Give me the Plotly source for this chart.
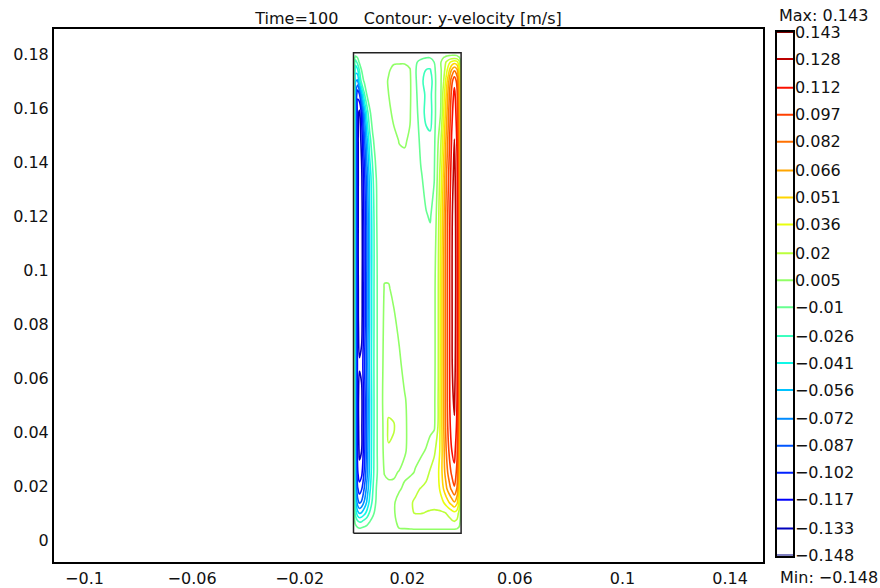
import plotly.graph_objects as go
from plotly.colors import sample_colorscale

# ---------------- data ----------------
# cavity outline [m]
domain_x = [0.0, 0.04]
domain_y = [0.0025, 0.1805]

# grid nodes [m]
x_m = [0.0000, 0.0007, 0.0015, 0.0022, 0.0030, 0.0040, 0.0050, 0.0060, 0.0072, 0.0085,
       0.0100, 0.0115, 0.0130, 0.0150, 0.0170, 0.0190, 0.0210, 0.0230, 0.0250, 0.0270,
       0.0285, 0.0300, 0.0315, 0.0325, 0.0335, 0.0345, 0.0355, 0.0365, 0.0375, 0.0385,
       0.0393, 0.0400]
y_m = [0.0025, 0.0045, 0.0070, 0.0100, 0.0140, 0.0190, 0.0250, 0.0330, 0.0420, 0.0520,
       0.0650, 0.0800, 0.0930, 0.1050, 0.1200, 0.1350, 0.1480, 0.1580, 0.1650, 0.1700,
       0.1740, 0.1770, 0.1790, 0.1805]

# y-velocity estimated at the grid nodes [mm/s], one row per y_m value
vy_mm_s = [
    [0]*32,
    [0, -5, -9, -11, -10, -8, -6, -4, -2, -1, 0,   0, 0, 2, 5.5, 6, 6.5, 7, 7, 7, 7, 7,   7, 7, 7, 7, 7, 7, 7, 6, 4, 0],
    [0, -15, -24, -28, -27, -22, -17, -11, -6, -2, 0,   0, 0, 3, 8, 11, 13, 14, 14, 14, 13, 13,   13, 13, 14, 15, 17, 19, 21, 18, 10, 0],
    [0, -30, -50, -58, -55, -46, -36, -24, -13, -5, -1,   0, 1, 4, 10, 15, 19, 21, 21, 20, 19, 18,   18, 18, 19, 21, 24, 28, 32, 28, 16, 0],
    [0, -50, -80, -90, -85, -70, -54, -37, -21, -8, -2,   0, 1, 4, 9, 14, 19, 22, 23, 24, 25, 26,   28, 31, 36, 43, 51, 59, 66, 55, 32, 0],
    [0, -65, -100, -110, -104, -86, -66, -45, -26, -10, -3,   0, 2, 3, 4, 7, 12, 18, 21, 24, 26, 28,   32, 40, 52, 64, 75, 85, 95, 80, 45, 0],
    [0, -70, -115, -128, -122, -100, -76, -52, -30, -12, -4,   6, 7.5, 6.5, 4.5, 3, 3, 6, 10, 16, 22, 27,   34, 45, 60, 75, 88, 100, 108, 92, 55, 0],
    [0, -74, -122, -136, -133, -108, -80, -54, -31, -12, -3,   9, 19.2, 17.5, 11, 6, 3, 2, 3, 6, 12, 18,   28, 42, 62, 82, 98, 112, 118, 100, 60, 0],
    [0, -75, -124, -139, -136, -110, -83, -55, -32, -12, -3,   10, 23, 21.5, 13, 7, 2, 1, 0, 0, 1, 3,   22, 43, 65, 88, 105, 120, 126, 108, 65, 0],
    [0, -75, -125, -140, -137, -111, -84, -56, -32, -12, -3,   12, 15.5, 15, 11, 6, 2, 0, -1, -1, 0, 2,   21, 43, 66, 90, 108, 124, 130, 112, 68, 0],
    [0, -74, -120, -131, -128, -106, -80, -54, -31, -12, -3,   10, 12, 11, 7, 2, 0, -1, -1, -1, 0, 1,   20, 42, 66, 90, 108, 126, 134, 115, 70, 0],
    [0, -75, -125, -141, -138, -112, -84, -56, -32, -12, -3,   8, 10, 7, 3, 1, 0, -1, -1, -2, -1, 1,   20, 42, 66, 90, 108, 126, 136, 117, 71, 0],
    [0, -75, -126, -142, -139, -113, -85, -56, -32, -12, -3,   6, 6, 3, 1, 0, 0, -1, -2, -3, -2, 1,   20, 42, 66, 90, 108, 126, 137, 118, 72, 0],
    [0, -76, -127, -144, -140, -114, -86, -57, -33, -12, -2,   1, 1, 1, 0, 0, 0, -1, -3, -5, -6, -1,   19, 41, 65, 89, 108, 126, 137, 118, 72, 0],
    [0, -76, -127, -143, -139, -113, -85, -56, -32, -11, -2,   0, 0, 0, 0, 0, -1, -2, -6, -9.5, -11, -6,   16, 38, 62, 87, 106, 125, 136, 117, 71, 0],
    [0, -77, -127, -142, -136, -108, -78, -50, -27, -10, -2,   0, 0, 1, 2, 2, 1, -2, -9, -14, -15, -11,   10, 30, 55, 80, 100, 120, 133, 115, 70, 0],
    [0, -78, -128, -142, -128, -92, -60, -32, -12, -3, 0,   0, 1, 3, 5.5, 6, 4, -3, -13, -20, -22, -13,   5, 20, 45, 70, 92, 114, 128, 110, 66, 0],
    [0, -80, -125, -138, -115, -70, -35, -13, -3, 0, 0,   0, 3, 7, 9, 9, 6, -5, -17, -30, -32, -15,   0, 6, 35, 60, 85, 108, 122, 105, 62, 0],
    [0, -80, -115, -105, -65, -28, -9, -3, 0, 0, 0,   1, 5, 9, 10, 10, 7, -7, -18, -28, -30, -15,   0, 5, 28, 52, 78, 102, 117, 100, 60, 0],
    [0, -70, -75, -45, -18, -8, -3, -1, 0, 0, 0,   2, 6, 9, 10, 10, 7, -8, -20, -33, -34, -16,   0, 4, 20, 42, 68, 92, 108, 92, 55, 0],
    [0, -50, -45, -25, -10, -4, -1, 0, 0, 0, 0,   1, 4, 8, 9, 9, 6, -9, -18, -26, -27, -14,   1, 4, 14, 30, 48, 68, 80, 70, 42, 0],
    [0, -35, -20, -8, -4, -2, -1, 0, 0, 0, 0,   0, 2, 4, 4, 4, 2, -8, -14, -18, -18, -10,   2, 5, 12, 22, 32, 40, 45, 40, 25, 0],
    [0, -12, -8, -4, -2, -1, 0, 0, 0, 0, 0,   0, 1, 1, 1, 1, 0, -3, -6, -8, -8, -5,   1, 2, 4, 6, 7, 8, 8, 7, 4, 0],
    [0]*32,
]

v_min = -0.148
v_max = 0.143
n_levels = 20
level_labels = ["0.143", "0.128", "0.112", "0.097", "0.082", "0.066", "0.051", "0.036", "0.02", "0.005",
                "−0.01", "−0.026", "−0.041", "−0.056", "−0.072", "−0.087", "−0.102", "−0.117", "−0.133", "−0.148"]

x_tick_vals = [-0.1, -0.06, -0.02, 0.02, 0.06, 0.1, 0.14]
x_tick_text = ["−0.1", "−0.06", "−0.02", "0.02", "0.06", "0.1", "0.14"]
y_tick_vals = [0, 0.02, 0.04, 0.06, 0.08, 0.1, 0.12, 0.14, 0.16, 0.18]
y_tick_text = ["0", "0.02", "0.04", "0.06", "0.08", "0.1", "0.12", "0.14", "0.16", "0.18"]

title_text = "Time=100\u00a0\u00a0\u00a0\u00a0\u00a0Contour: y-velocity [m/s]"
max_text = "Max: 0.143"
min_text = "Min: −0.148"

# ---------------- styling / layout ----------------
FONT = "DejaVu Sans"
TXT = "#111"
W, H = 880, 588
L, T, B = 54, 29, 26          # paper area: x 54..880, y 29..562
PLOT_RIGHT = 763              # right edge of the main frame (px)
CB_LEFT, CB_RIGHT = 777, 793  # colour legend box (px)
CB_TOP, CB_BOT = 32, 555.5
paper_w = W - L
paper_h = H - T - B

jet = [
    [0.000, "rgb(0,0,128)"], [0.110, "rgb(0,0,255)"], [0.125, "rgb(0,0,255)"],
    [0.340, "rgb(0,219,255)"], [0.350, "rgb(0,230,247)"], [0.375, "rgb(21,255,226)"],
    [0.640, "rgb(239,255,8)"], [0.650, "rgb(247,245,0)"], [0.660, "rgb(255,236,0)"],
    [0.890, "rgb(255,19,0)"], [0.910, "rgb(232,0,0)"], [1.000, "rgb(128,0,0)"],
]

z = [[v / 1000.0 for v in row] for row in vy_mm_s]
step = (v_max - v_min) / (n_levels - 1)

fig = go.Figure()
fig.add_trace(go.Contour(
    x=x_m, y=y_m, z=z,
    zmin=v_min, zmax=v_max, zauto=False,
    colorscale=jet, showscale=False,
    autocontour=False,
    contours=dict(start=v_min, end=v_max + step * 0.01, size=step,
                  coloring="lines", showlabels=False),
    line=dict(width=1.6, smoothing=1),
    hoverinfo="skip",
    xaxis="x", yaxis="y",
))

# cavity outline
fig.add_trace(go.Scatter(
    x=[domain_x[0], domain_x[1], domain_x[1], domain_x[0], domain_x[0]],
    y=[domain_y[0], domain_y[0], domain_y[1], domain_y[1], domain_y[0]],
    mode="lines", line=dict(color="#222", width=1.5),
    hoverinfo="skip", showlegend=False, xaxis="x", yaxis="y",
))

# colour legend: one line per contour level, on its own small axes
level_vals = [float(s.replace("−", "-")) for s in level_labels]
level_cols = sample_colorscale(jet, [(v - v_min) / (v_max - v_min) for v in level_vals])
for v, c in zip(level_vals, level_cols):
    fig.add_trace(go.Scatter(
        x=[0, 1], y=[v, v], mode="lines", line=dict(color=c, width=2),
        hoverinfo="skip", showlegend=False, xaxis="x2", yaxis="y2",
    ))

px_per_unit_x = 2690.0
px_per_unit_y = 2700.0
x0_px = 353.5 - L
y0_px = 540.0 - T
plot_w = PLOT_RIGHT - L
x_range = [-x0_px / px_per_unit_x, (plot_w - x0_px) / px_per_unit_x]
y_range = [-(paper_h - y0_px) / px_per_unit_y, y0_px / px_per_unit_y]

axis_common = dict(showgrid=False, zeroline=False, showline=True, linecolor="#000",
                   linewidth=2, mirror=True,
                   tickfont=dict(family=FONT, size=16, color=TXT))

fig.update_layout(
    width=W, height=H,
    margin=dict(l=L, r=0, t=T, b=B, autoexpand=False),
    paper_bgcolor="white", plot_bgcolor="white",
    showlegend=False,
    font=dict(family=FONT, size=16, color=TXT),
    title=dict(text=title_text, x=(L + PLOT_RIGHT) / 2 / W, xref="container", xanchor="center",
               y=1 - 18 / H, yref="container", yanchor="middle",
               font=dict(family=FONT, size=16, color=TXT)),
    xaxis=dict(domain=[0, plot_w / paper_w], range=x_range, tickmode="array",
               tickvals=x_tick_vals, ticktext=x_tick_text, anchor="y",
               ticks="outside", ticklen=1, tickcolor="rgba(0,0,0,0)",
               **axis_common),
    yaxis=dict(domain=[0, 1], range=y_range, tickmode="array",
               tickvals=y_tick_vals, ticktext=y_tick_text, anchor="x",
               ticks="", **axis_common),
    xaxis2=dict(domain=[(CB_LEFT - L) / paper_w, (CB_RIGHT - L) / paper_w], range=[0, 1],
                showgrid=False, zeroline=False, showticklabels=False, ticks="",
                showline=True, linecolor="#000", linewidth=1.5, mirror=True, anchor="y2"),
    yaxis2=dict(domain=[(H - B - CB_BOT) / paper_h, (H - B - CB_TOP) / paper_h],
                range=[v_min, v_max], side="right", anchor="x2",
                showgrid=False, zeroline=False, showline=True, linecolor="#000",
                linewidth=1.5, mirror=True,
                tickmode="array", tickvals=level_vals, ticktext=level_labels,
                ticks="", ticklabelstandoff=-3,
                tickfont=dict(family=FONT, size=16, color=TXT)),
    annotations=[
        dict(text=max_text, xref="paper", yref="paper",
             x=(777 - L) / paper_w, y=(H - B - 15.5) / paper_h,
             xanchor="left", yanchor="middle", showarrow=False,
             font=dict(family=FONT, size=16, color=TXT)),
        dict(text=min_text, xref="paper", yref="paper",
             x=(778 - L) / paper_w, y=(H - B - 577) / paper_h,
             xanchor="left", yanchor="middle", showarrow=False,
             font=dict(family=FONT, size=16, color=TXT)),
    ],
)

fig.write_html("out.html")
